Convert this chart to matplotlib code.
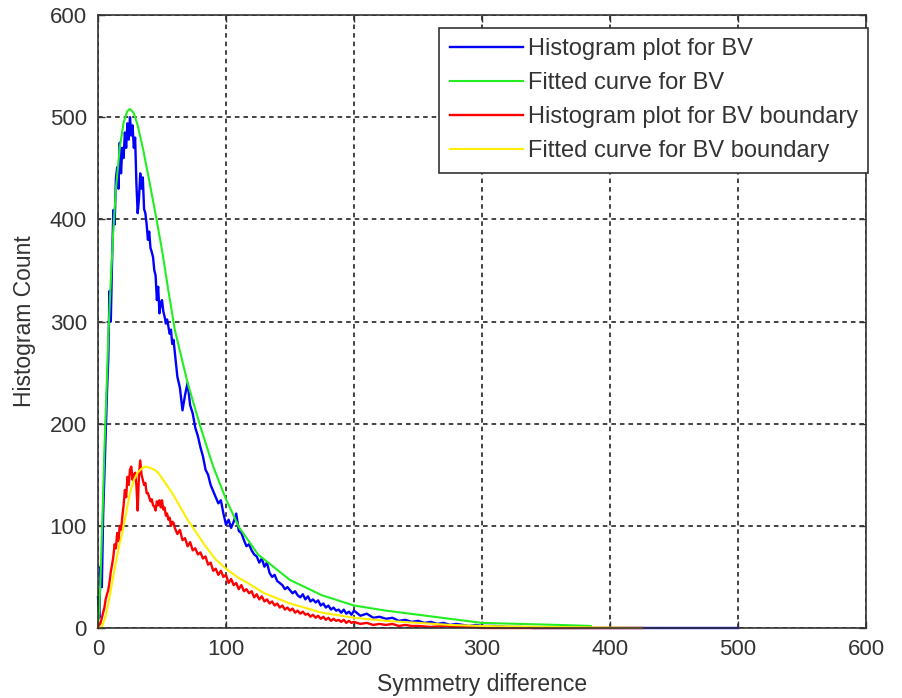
from matplotlib import pyplot as plt

# histogram for BV
bv_x = list(range(0, 61)) + list(range(62, 201, 2)) + list(range(205, 301, 5)) + [310, 320, 330, 340, 500]
bv_y = [30, 10, 60, 40, 110, 150, 190, 230, 262, 330,
        300, 360, 409, 395, 440, 451, 430, 475, 445, 470,
        460, 485, 470, 494, 478, 500, 482, 492, 470, 480,
        435, 406, 420, 445, 430, 441, 410, 406, 395, 380,
        388, 372, 368, 363, 350, 345, 321, 334, 308, 318,
        321, 310, 305, 298, 302, 295, 288, 292, 278, 282, 270,
        246, 235, 213, 228, 240, 218, 210, 196, 188, 177,
        168, 155, 150, 140, 134, 128, 122, 125, 112, 101,
        106, 98, 104, 112, 95, 93, 86, 80, 82, 76,
        72, 70, 64, 68, 60, 64, 54, 50, 52, 46,
        44, 42, 38, 40, 37, 34, 36, 32, 30, 33,
        28, 31, 26, 28, 25, 27, 22, 24, 20, 22,
        18, 20, 17, 18, 15, 18, 14, 16, 13, 17,
        12, 14, 10, 11, 9, 10, 7, 8, 6, 7,
        5, 6, 4, 5, 3, 4, 3, 2, 3, 2,
        2, 1, 1, 0, 0]

# fitted curve for BV
fit_bv_x = [0, 1, 2, 3, 4, 5, 6, 7, 8, 10, 12, 14, 17, 20, 23, 25, 28, 31, 35, 40,
            45, 50, 55, 60, 70, 80, 90, 100, 110, 125, 150, 175, 200, 225, 250, 275,
            300, 330, 360, 385]
fit_bv_y = [0, 20, 50, 90, 130, 175, 210, 245, 285, 340, 390, 430, 470, 495, 506, 508,
            504, 492, 470, 438, 405, 370, 330, 292, 240, 197, 158, 126, 99, 72, 47, 32,
            22, 17, 13, 9, 5, 4, 3, 2]

# histogram for BV boundary
bnd_x = list(range(0, 61)) + list(range(62, 201, 2)) + list(range(205, 251, 5)) + [260, 270, 280, 290, 300, 425]
bnd_y = [0, 3, 5, 10, 15, 20, 28, 33, 37, 45,
         55, 62, 70, 82, 78, 93, 85, 100, 96, 109,
         120, 135, 128, 148, 140, 155, 158, 145, 150, 152,
         140, 115, 150, 164, 150, 145, 140, 142, 132, 132,
         128, 124, 126, 120, 119, 115, 124, 120, 125, 118,
         125, 116, 118, 110, 112, 106, 108, 100, 104, 103, 98,
         92, 96, 86, 88, 80, 84, 76, 78, 72, 74,
         68, 70, 62, 64, 56, 58, 52, 56, 50, 52,
         44, 48, 42, 44, 38, 42, 36, 38, 34, 36,
         30, 33, 28, 31, 26, 28, 24, 26, 22, 24,
         20, 22, 18, 20, 17, 19, 15, 17, 14, 16,
         13, 14, 11, 13, 10, 12, 9, 11, 8, 10,
         7, 9, 7, 8, 6, 8, 5, 7, 5, 6,
         4, 5, 3, 4, 3, 4, 2, 3, 2, 2,
         1, 2, 1, 1, 0, 0]

# fitted curve for BV boundary
fit_bnd_x = [0, 3, 6, 9, 11, 14, 17, 19, 22, 25, 28, 31, 34, 37, 40, 44, 47, 52, 58, 64,
             70, 77, 84, 92, 101, 110, 117, 130, 150, 175, 200, 225, 250, 275, 300, 350, 425]
fit_bnd_y = [0, 1, 12, 30, 44, 65, 83, 93, 113, 132, 145, 152, 156, 158, 157, 155, 152,
             143, 132, 119, 106, 93, 80, 67, 57, 49, 44, 34, 24, 15, 10, 7, 5, 3, 2, 1, 0]

ticks = [0, 100, 200, 300, 400, 500, 600]


def plot_style(ax):
    ax.set_xlim(0, 600)
    ax.set_ylim(0, 600)
    ax.set_xticks(ticks)
    ax.set_yticks(ticks)
    ax.grid(True, color='#111111', linestyle=(0, (3, 2.6)), linewidth=1.1)
    ax.tick_params(direction='in', length=5, width=1, top=True, right=True,
                   labelsize=16, pad=8, colors='#333333')
    for s in ax.spines.values():
        s.set_color('#333333')
        s.set_linewidth(1.2)


def main():
    plt.rcParams['font.family'] = ['Liberation Sans', 'DejaVu Sans']
    fig = plt.figure(figsize=(9.02, 6.98), dpi=100)
    ax = fig.add_axes([98 / 902, 70 / 698, 768 / 902, 613 / 698])
    plot_style(ax)

    ax.plot(bv_x, bv_y, color='#0000ff', linewidth=1.7, label='Histogram plot for BV', clip_on=False)
    ax.plot(fit_bv_x, fit_bv_y, color='#22ee22', linewidth=1.5, label='Fitted curve for BV', clip_on=False)
    ax.plot(bnd_x, bnd_y, color='#ff0000', linewidth=1.7, label='Histogram plot for BV boundary', clip_on=False)
    ax.plot(fit_bnd_x, fit_bnd_y, color='#ffee00', linewidth=1.5, label='Fitted curve for BV boundary', clip_on=False)

    ax.set_xlabel('Symmetry difference', fontsize=16.5, color='#333333', labelpad=9)
    ax.set_ylabel('Histogram Count', fontsize=16.5, color='#333333', labelpad=10)

    leg = ax.legend(loc='upper right', bbox_to_anchor=(1.003, 0.979), borderaxespad=0,
                    fontsize=17, fancybox=False, framealpha=1, edgecolor='#333333',
                    handlelength=3.1, labelspacing=0.5, handletextpad=0.2,
                    borderpad=0.45)
    leg.get_frame().set_linewidth(1.2)
    for t in leg.get_texts():
        t.set_color('#333333')

    fig.savefig('out.png', dpi=100)


if __name__ == "__main__":
    main()
